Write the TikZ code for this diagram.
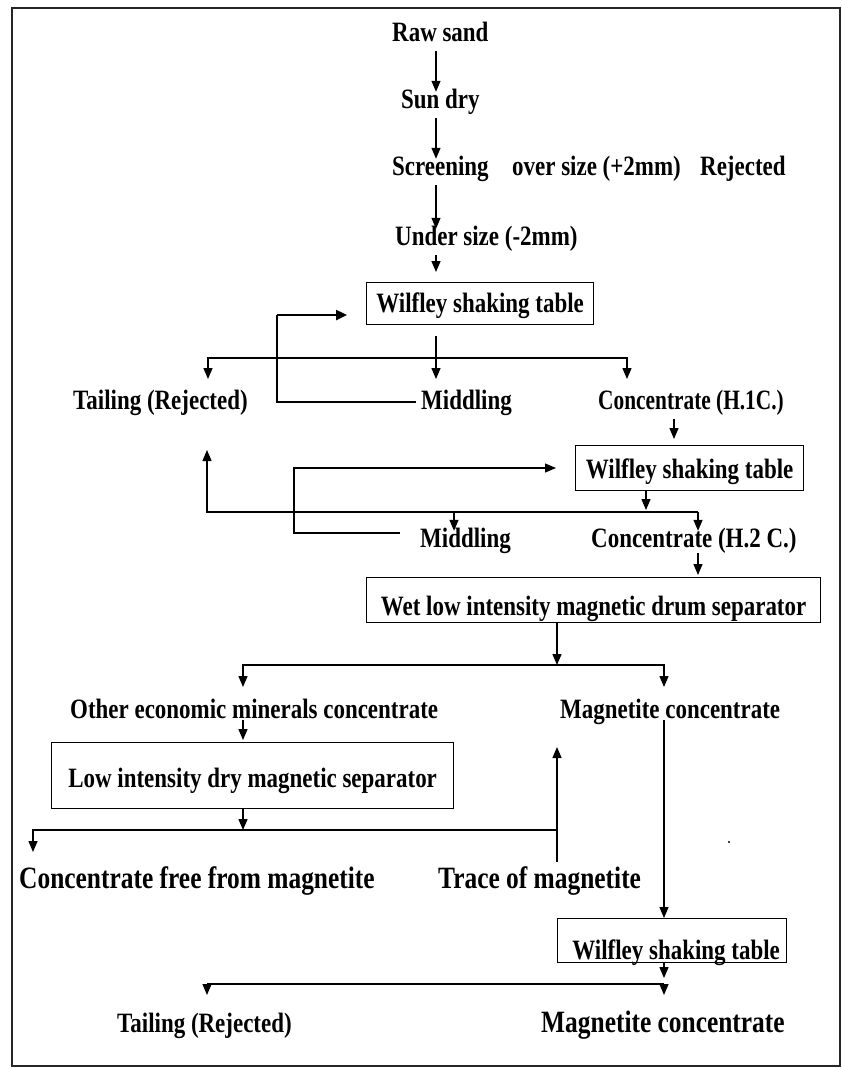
\documentclass[tikz,border=0pt]{standalone}
\usepackage{fontspec}
\setmainfont[FakeStretch=0.82]{Liberation Serif}
\usetikzlibrary{arrows.meta,calc}
\begin{document}
\begin{tikzpicture}[x=1pt,y=-1pt,
  lbl/.style={inner sep=0pt, text height=16pt, text depth=10pt, anchor=base west,
              font=\fontsize{28}{30}\selectfont\bfseries},
  biglbl/.style={lbl, font=\fontsize{31}{33}\selectfont\bfseries},
  box/.style={draw, line width=1.3pt, inner sep=0pt, anchor=north west,
              font=\fontsize{28}{30}\selectfont\bfseries},
  ln/.style={line width=1.3pt},
  arr/.style={line width=1.3pt, -{Triangle[length=11pt,width=9pt]}},
  thk/.style={line width=2.4pt}]
\useasboundingbox (0,0) rectangle (842,1069);
\draw[line width=2pt, draw=black!85] (12,7.5) rectangle (840,1066);

% text nodes
\node[lbl] (raw) at (392,41) {Raw sand};
\node[lbl] (sun) at (401,108) {Sun dry};
\node[lbl] (screen) at (392,175) {Screening};
\node[lbl] (over) at (512,175) {over size (+2mm)};
\node[lbl] (rej) at (700,175) {Rejected};
\node[lbl] (under) at (395,245) {Under size (-2mm)};
\node[lbl] (tail1) at (73,409) {Tailing (Rejected)};
\node[lbl] (mid1) at (421,409) {Middling};
\node[lbl] (conc1) at (598,409) {\scalebox{0.93}[1]{Concentrate (H.1C.)}};
\node[lbl] (mid2) at (420,547) {Middling};
\node[lbl] (conc2) at (591,547) {Concentrate (H.2 C.)};
\node[lbl] (other) at (70,718) {Other economic minerals concentrate};
\node[lbl] (mag1) at (560,718) {Magnetite concentrate};
\node[biglbl] (free) at (19,888) {Concentrate free from magnetite};
\node[biglbl] (trace) at (438,888) {Trace of magnetite};
\node[lbl] (tail2) at (117,1032) {Tailing (Rejected)};
\node[biglbl] (mag2) at (541,1032) {Magnetite concentrate};
\node[circle, fill, inner sep=0pt, minimum size=2.4pt] (dot) at (729,842) {};

% boxes
\node[box, minimum width=227pt, minimum height=42pt, text height=30pt, text depth=12pt] (b1) at (366,282) {Wilfley shaking table};
\node[box, minimum width=228pt, minimum height=45pt, text height=33pt, text depth=12pt] (b2) at (575,445) {Wilfley shaking table};
\node[box, minimum width=454pt, minimum height=45pt, text height=38pt, text depth=7pt] (b3) at (366,577) {Wet low intensity magnetic drum separator};
\node[box, minimum width=402pt, minimum height=66pt, text height=45pt, text depth=21pt] (b4) at (51,742) {Low intensity dry magnetic separator};
\node[box, minimum width=229pt, minimum height=44pt, text height=41pt, text depth=3pt] (b5) at (557,918) {\hspace*{8pt}Wilfley shaking table};

% helper coordinates
\coordinate (trunk) at (436,0);
\coordinate (j1) at (436,358);
\coordinate (t1l) at (208,379);
\coordinate (t1m) at (436,379);
\coordinate (t1r) at (627,379);
\coordinate (fb1s) at (416,402);
\coordinate (fb1c) at (277,315);
\coordinate (c674) at (674,0);
\coordinate (c646) at (646,0);
\coordinate (c454) at (454,0);
\coordinate (j2l) at (207,512);
\coordinate (j2r) at (698,512);
\coordinate (t2up) at (207,450);
\coordinate (fb2s) at (400,533);
\coordinate (fb2c) at (294,468);
\coordinate (j3) at (557,665);
\coordinate (c557) at (557,0);
\coordinate (t3l) at (243,687);
\coordinate (t3r) at (664,687);
\coordinate (j4m) at (243,830);
\coordinate (j4r) at (557,830);
\coordinate (j4l) at (33,830);
\coordinate (t4l) at (33,852);
\coordinate (trb) at (557,862);
\coordinate (trt) at (557,747);
\coordinate (j5r) at (664,984);
\coordinate (j5l) at (207,984);
\coordinate (t5l) at (207,995);
\coordinate (t5r) at (664,995);

% main trunk
\draw[arr] (raw.south -| trunk) -- (sun.north -| trunk);
\draw[arr] (sun.south -| trunk) -- (screen.north -| trunk);
\draw[arr] (screen.south -| trunk) -- (under.north -| trunk);
\draw[arr, shorten >=10pt] (under.south -| trunk) -- (b1.north -| trunk);

% first table split
\draw[arr, shorten <=11pt] (b1.south -| trunk) -- (t1m);
\draw[arr] (j1) -| (t1l);
\draw[arr] (j1) -| (t1r);
% middling recycle 1
\draw[ln] (fb1s) -| (fb1c);
\draw[thk, -{Triangle[length=11pt,width=10pt]}] (fb1c) -- ([xshift=-19pt]b1.west |- fb1c);

% second table
\draw[arr, shorten >=6pt] (conc1.south -| c674) -- (b2.north -| c674);
\draw[arr, shorten >=2pt] (b2.south -| c646) -- (j2l -| c646);
\draw[arr] (j2r) -- (j2l) -- (t2up);
\draw[arr] (j2l -| c454) -- (mid2.north -| c454);
\draw[arr] (j2r) -- (mid2.north -| j2r);
% middling recycle 2
\draw[arr] (fb2s) -| (fb2c) -- ([xshift=-19pt]b2.west |- fb2c);

% wet drum separator
\draw[arr, shorten <=-4pt, shorten >=2pt] (conc2.south -| j2r) -- (b3.north -| j2r);
\draw[arr] (b3.south -| c557) -- (j3);
\draw[arr] (j3) -| (t3l);
\draw[arr] (j3) -| (t3r);

% dry separator branch
\draw[arr, shorten <=-8pt, shorten >=2pt] (other.south -| t3l) -- (b4.north -| t3l);
\draw[arr] (b4.south -| t3l) -- (j4m);
\draw[arr] (j4r) -- (j4l) -- (t4l);
\draw[arr] (trb) -- (trt);

% magnetite to last table
\draw[arr, shorten <=-8pt] (mag1.south -| t3r) -- (b5.north -| t3r);
\draw[arr, shorten >=6pt] (b5.south -| t3r) -- (j5r);
\draw[thk] (j5l) -- (j5r);
\draw[arr] (j5l) -- (t5l);
\draw[arr] (j5r) -- (t5r);
\end{tikzpicture}
\end{document}
